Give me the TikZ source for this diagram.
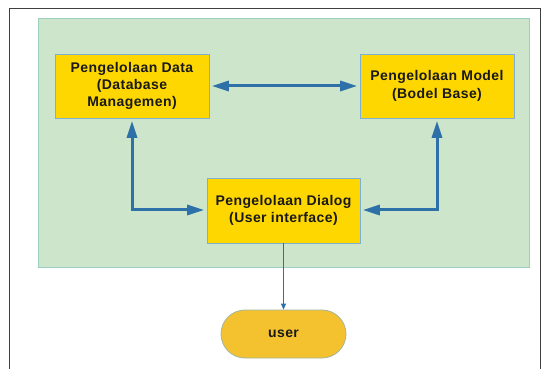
\documentclass[tikz,border=0pt]{standalone}
\usepackage{fontspec}
\setmainfont{Liberation Sans}
\usetikzlibrary{arrows.meta}
\definecolor{bgreen}{HTML}{CDE5CB}
\definecolor{bgreenline}{HTML}{9CCFC0}
\definecolor{boxyel}{HTML}{FFD700}
\definecolor{boxline}{HTML}{7FB0D0}
\definecolor{useryel}{HTML}{F5C22F}
\definecolor{arrblue}{HTML}{2E70A8}
\tikzset{
  procbox/.style={draw=boxline, line width=0.8pt, fill=boxyel, minimum width=154pt, minimum height=64pt, align=center, inner sep=0pt, font=\fontsize{14}{17.3}\selectfont\bfseries\addfontfeature{LetterSpace=3}, text=black!90},
  userbox/.style={draw=boxline!70!useryel, line width=0.8pt, fill=useryel, rounded corners=24pt, minimum width=125pt, minimum height=48pt, inner sep=0pt, font=\fontsize{14}{17}\selectfont\bfseries\addfontfeature{LetterSpace=3}, text=black!90},
  both arr/.style={draw=arrblue, line width=3pt, {Triangle[length=17pt,width=10pt]}-{Triangle[length=17pt,width=10pt]}},
  thin arr/.style={draw=arrblue, line width=1pt, -{Triangle[length=6pt,width=5pt]}}
}
\begin{document}
\begin{tikzpicture}[x=1pt,y=-1pt]
\useasboundingbox (0,0) rectangle (542,369);
\fill[white] (0,0) rectangle (542,369);
\draw[black!75, line width=1pt] (9,372) -- (9,8.5) -- (540.5,8.5) -- (540.5,372);
\draw[bgreenline, fill=bgreen, line width=0.8pt] (38,18.5) rectangle (529,267);
\node[procbox] (data) at (132,86) {Pengelolaan Data\\(Database\\Managemen)};
\node[procbox] (model) at (437,86) {Pengelolaan Model\\(Bodel Base)};
\node[procbox, minimum width=153pt, minimum height=65pt] (dialog) at (283.5,210.5) {Pengelolaan Dialog\\(User interface)};
\node[userbox] (user) at (283.5,334) {user};
\coordinate (lc) at (132,210);
\coordinate (rc) at (437,210);
\draw[both arr, shorten <=2.5pt, shorten >=2.5pt] (data.east) -- (model.west);
\draw[both arr, shorten <=2.5pt, shorten >=2.5pt] (data.south) -- (lc) -- (dialog.west |- lc);
\draw[both arr, shorten <=2.5pt, shorten >=2.5pt] (model.south) -- (rc) -- (dialog.east |- rc);
\draw[thin arr] (dialog.south) -- (user.north);
\end{tikzpicture}
\end{document}
